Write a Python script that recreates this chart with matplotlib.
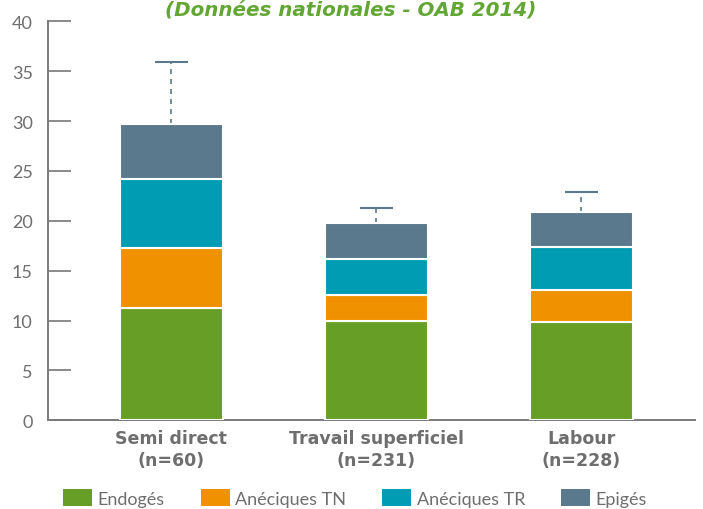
import matplotlib
matplotlib.use("Agg")
import matplotlib.pyplot as plt
from matplotlib.patches import Patch

categories = ["Semi direct\n(n=60)", "Travail superficiel\n(n=231)", "Labour\n(n=228)"]
groups = ["Endogés", "Anéciques TN", "Anéciques TR", "Epigés"]
endoges = [11.3, 10.0, 9.85]
aneciques_tn = [5.95, 2.55, 3.2]
aneciques_tr = [6.95, 3.65, 4.3]
epiges = [5.5, 3.55, 3.55]
ecart = [6.2, 1.55, 2.0]  # upper whisker above the stacked total

colors = ["#679e26", "#f09100", "#009cb4", "#5b798d"]
grey = "#6e6e6e"

fig = plt.figure(figsize=(7.03, 5.10), dpi=100)
ax = fig.add_axes([0.0683, 0.1739, 0.9203, 0.7824])

x = list(range(len(categories)))
bottom = [0.0] * len(x)
for vals, col in zip((endoges, aneciques_tn, aneciques_tr, epiges), colors):
    ax.bar(x, vals, width=0.5, bottom=bottom, color=col, edgecolor="white",
           linewidth=1.5, zorder=3)
    bottom = [b + v for b, v in zip(bottom, vals)]

# dashed whiskers with a solid cap
tops = [b + e for b, e in zip(bottom, ecart)]
ax.vlines(x, bottom, tops, colors=colors[3], linestyles=(0, (3, 3)),
          linewidth=1.2, zorder=2)
ax.hlines(tops, [i - 0.08 for i in x], [i + 0.08 for i in x],
          colors=colors[3], linewidth=1.5, zorder=2)

ax.set_xlim(-0.602, 2.554)
ax.set_ylim(0, 40)
ax.set_yticks(range(0, 41, 5))
ax.tick_params(axis="y", direction="in", length=16.5, width=1.2, color="#777777",
               pad=11, labelsize=13, labelcolor=grey)
for t in ax.get_yticklabels():
    t.set_fontfamily("Lato")
ax.set_xticks(x)
ax.set_xticklabels(categories, fontsize=12.5, fontweight="bold", color=grey,
                   family=["Liberation Sans Narrow", "DejaVu Sans"],
                   linespacing=1.3)
ax.tick_params(axis="x", length=0, pad=6)

for s in ("top", "right"):
    ax.spines[s].set_visible(False)
for s in ("left", "bottom"):
    ax.spines[s].set_color("#7a7a7a")
    ax.spines[s].set_linewidth(1.4)

fig.text(0.499, 0.981, "(Données nationales - OAB 2014)", ha="center",
         va="center", fontsize=14.3, fontstyle="italic", fontweight="semibold",
         color="#62a733", family="DejaVu Sans")

handles = [Patch(facecolor=c, edgecolor="none") for c in colors]
fig.legend(handles, groups, loc="center", bbox_to_anchor=(0.505, 0.022),
           ncol=4, frameon=False, handlelength=1.6,
           handleheight=1.1, handletextpad=0.3, columnspacing=2.0,
           labelcolor=grey, prop={"family": "Lato", "size": 13})

fig.savefig("out.png", dpi=100)
